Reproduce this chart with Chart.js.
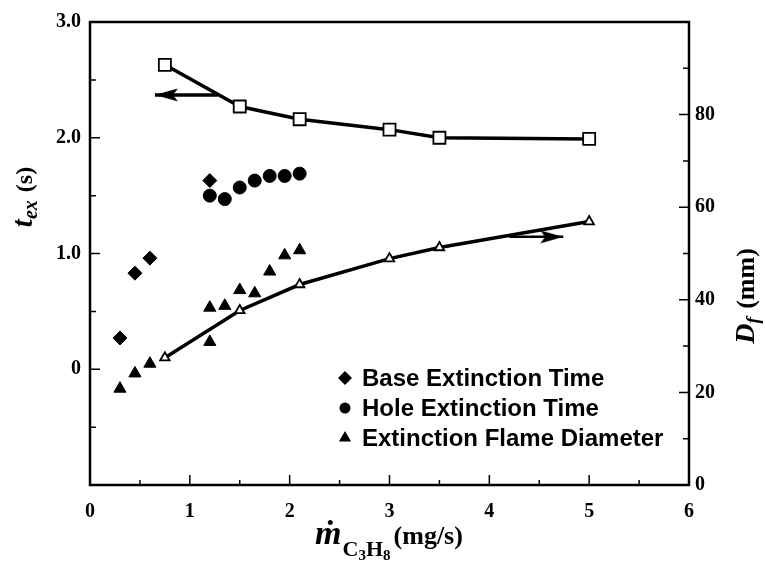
<!DOCTYPE html>
<html lang="en">
<head>
<meta charset="UTF-8">
<title>Extinction time and flame diameter</title>
<script src="https://cdn.jsdelivr.net/npm/chart.js@4.4.1/dist/chart.umd.min.js"></script>
<style>
  body { margin: 0; background: #fff; }
</style>
</head>
<body>
<canvas id="chart" width="765" height="561"></canvas>
<script>
// propane mass flow (mg/s) for the two fitted curves
const massFlow = [0.75, 1.5, 2.1, 3.0, 3.5, 5.0];
const extinctionTime = [2.63, 2.27, 2.16, 2.07, 2.0, 1.99];     // s, left axis
const flameDiameter = [27.5, 37.7, 43.3, 48.9, 51.3, 56.9];     // mm, right axis

// scattered measurements
const baseFlow = [0.3, 0.45, 0.6, 1.2];
const baseTime = [0.27, 0.83, 0.96, 1.63];
const holeFlow = [1.2, 1.35, 1.5, 1.65, 1.8, 1.95, 2.1];
const holeTime = [1.50, 1.47, 1.57, 1.63, 1.67, 1.67, 1.69];
const diamFlow = [0.3, 0.45, 0.6, 1.2, 1.2, 1.35, 1.5, 1.65, 1.8, 1.95, 2.1];
const diamValue = [20.8, 24.1, 26.2, 30.9, 38.3, 38.7, 42.1, 41.4, 46.1, 49.6, 50.7];

// arrows telling which axis each curve belongs to
const leftArrowX = [1.28, 0.65];
const leftArrowY = 2.37;
const rightArrowX = [4.2, 4.74];
const rightArrowY = 53.6;

const legendLabels = ['Base Extinction Time', 'Hole Extinction Time', 'Extinction Flame Diameter'];

const SERIF = '"Liberation Serif", "DejaVu Serif", serif';
const SANS = '"Liberation Sans", Arial, sans-serif';

function pts(xs, ys) {
  return xs.map((x, i) => ({ x: x, y: Array.isArray(ys) ? ys[i] : ys }));
}

// arrowhead sprite, tip at the centre of the canvas
function arrowHead(dir) {
  const c = document.createElement('canvas');
  c.width = 48; c.height = 14;
  const g = c.getContext('2d');
  g.fillStyle = '#000';
  g.beginPath();
  if (dir < 0) {
    g.moveTo(24, 7); g.lineTo(47, 0.5); g.lineTo(42, 7); g.lineTo(47, 13.5);
  } else {
    g.moveTo(24, 7); g.lineTo(1, 0.5); g.lineTo(6, 7); g.lineTo(1, 13.5);
  }
  g.closePath();
  g.fill();
  return c;
}

const tickMarks = {
  id: 'tickMarks',
  afterDatasetsDraw(chart) {
    const { ctx, chartArea: a, scales } = chart;
    ctx.save();
    ctx.strokeStyle = '#000';
    ctx.lineWidth = 1.5;
    ctx.beginPath();
    scales.y.ticks.forEach(t => {
      const y = scales.y.getPixelForValue(t.value);
      const len = t.label !== '' ? 10 : 6;
      ctx.moveTo(a.left, y); ctx.lineTo(a.left + len, y);
    });
    scales.y2.ticks.forEach(t => {
      const y = scales.y2.getPixelForValue(t.value);
      const len = t.label !== '' ? 10 : 6;
      ctx.moveTo(a.right, y); ctx.lineTo(a.right - len, y);
    });
    scales.x.ticks.forEach(t => {
      const x = scales.x.getPixelForValue(t.value);
      const len = t.label !== '' ? 10 : 5;
      ctx.moveTo(x, a.bottom); ctx.lineTo(x, a.bottom - len);
    });
    ctx.stroke();
    ctx.lineWidth = 2.5;
    ctx.strokeRect(a.left, a.top, a.right - a.left, a.bottom - a.top);
    ctx.restore();
  }
};

function drawRich(ctx, parts, cx, cy, angle) {
  ctx.save();
  ctx.translate(cx, cy);
  ctx.rotate(angle);
  ctx.fillStyle = '#000';
  ctx.textBaseline = 'alphabetic';
  let total = 0;
  parts.forEach(p => { ctx.font = p.font; p.w = ctx.measureText(p.text).width + (p.gap || 0); total += p.w; });
  let x = -total / 2;
  parts.forEach(p => { ctx.font = p.font; ctx.fillText(p.text, x, p.dy); x += p.w; });
  ctx.restore();
}

const axisTitles = {
  id: 'axisTitles',
  afterDraw(chart) {
    const ctx = chart.ctx;
    drawRich(ctx, [
      { text: 't', font: 'italic bold 29px ' + SERIF, dy: 8 },
      { text: 'ex', font: 'italic bold 20px ' + SERIF, dy: 13, gap: 2 },
      { text: ' (s)', font: 'bold 24px ' + SERIF, dy: 8 }
    ], 24, 197, -Math.PI / 2);
    drawRich(ctx, [
      { text: 'D', font: 'italic bold 28px ' + SERIF, dy: 8 },
      { text: 'f', font: 'italic bold 19px ' + SERIF, dy: 13, gap: 2 },
      { text: ' (mm)', font: 'bold 26px ' + SERIF, dy: 8 }
    ], 746, 296, -Math.PI / 2);
    drawRich(ctx, [
      { text: 'ṁ', font: 'italic bold 34px ' + SERIF, dy: 0, gap: 1 },
      { text: 'C', font: 'bold 22px ' + SERIF, dy: 12 },
      { text: '3', font: 'bold 15px ' + SERIF, dy: 16 },
      { text: 'H', font: 'bold 22px ' + SERIF, dy: 12 },
      { text: '8', font: 'bold 15px ' + SERIF, dy: 16, gap: 3 },
      { text: '(mg/s)', font: 'bold 26px ' + SERIF, dy: 0 }
    ], 389, 544, 0);
  }
};

const insideLegend = {
  id: 'insideLegend',
  afterDraw(chart) {
    const ctx = chart.ctx;
    const rows = [
      { style: 'rectRot', radius: 7, label: legendLabels[0], y: 378 },
      { style: 'circle', radius: 5.5, label: legendLabels[1], y: 408 },
      { style: 'triangle', radius: 7, label: legendLabels[2], y: 438 }
    ];
    ctx.save();
    ctx.fillStyle = '#000';
    ctx.strokeStyle = '#000';
    ctx.font = 'bold 24px ' + SANS;
    ctx.textBaseline = 'middle';
    rows.forEach(r => {
      Chart.helpers.drawPoint(ctx, { pointStyle: r.style, radius: r.radius, rotation: 0, borderWidth: 0 }, 345, r.y);
      ctx.fillText(r.label, 362, r.y + 1);
    });
    ctx.restore();
  }
};

new Chart(document.getElementById('chart'), {
  type: 'scatter',
  data: {
    datasets: [
      {
        label: 'arrow left',
        data: pts(leftArrowX, leftArrowY),
        yAxisID: 'y',
        showLine: true,
        borderColor: '#000',
        borderWidth: 3.5,
        pointStyle: arrowHead(-1),
        pointRadius: [0, 3]
      },
      {
        label: 'arrow right',
        data: pts(rightArrowX, rightArrowY),
        yAxisID: 'y2',
        showLine: true,
        borderColor: '#000',
        borderWidth: 2.5,
        pointStyle: arrowHead(1),
        pointRadius: [0, 3]
      },
      {
        label: 'Extinction time',
        data: pts(massFlow, extinctionTime),
        yAxisID: 'y',
        showLine: true,
        borderColor: '#000',
        borderWidth: 3.5,
        pointStyle: 'rect',
        pointRadius: 8.5,
        pointBackgroundColor: '#fff',
        pointBorderColor: '#000',
        pointBorderWidth: 1.8
      },
      {
        label: 'Flame diameter',
        data: pts(massFlow, flameDiameter),
        yAxisID: 'y2',
        showLine: true,
        borderColor: '#000',
        borderWidth: 3.5,
        pointStyle: 'triangle',
        pointRadius: 5.5,
        pointBackgroundColor: '#fff',
        pointBorderColor: '#000',
        pointBorderWidth: 1.8
      },
      {
        label: legendLabels[0],
        data: pts(baseFlow, baseTime),
        yAxisID: 'y',
        pointStyle: 'rectRot',
        pointRadius: 7,
        pointBackgroundColor: '#000',
        pointBorderColor: '#000'
      },
      {
        label: legendLabels[1],
        data: pts(holeFlow, holeTime),
        yAxisID: 'y',
        pointStyle: 'circle',
        pointRadius: 6.5,
        pointBackgroundColor: '#000',
        pointBorderColor: '#000'
      },
      {
        label: legendLabels[2],
        data: pts(diamFlow, diamValue),
        yAxisID: 'y2',
        pointStyle: 'triangle',
        pointRadius: 7,
        pointBackgroundColor: '#000',
        pointBorderColor: '#000'
      }
    ]
  },
  options: {
    responsive: false,
    animation: false,
    layout: { padding: { top: 22, left: 0, right: 0, bottom: 0 } },
    plugins: {
      legend: { display: false },
      tooltip: { enabled: false }
    },
    scales: {
      x: {
        type: 'linear',
        min: 0,
        max: 6,
        grid: { display: false, drawTicks: false },
        border: { display: false },
        ticks: {
          stepSize: 0.5,
          padding: 15,
          color: '#000',
          font: { family: SERIF, size: 20, weight: 'bold' },
          maxRotation: 0,
          autoSkip: false,
          callback: v => Number.isInteger(v) ? String(v) : ''
        },
        afterFit: s => { s.height = 76; }
      },
      y: {
        position: 'left',
        min: -1,
        max: 3,
        grid: { display: false, drawTicks: false },
        border: { display: false },
        ticks: {
          stepSize: 0.5,
          padding: 9,
          color: '#000',
          font: { family: SERIF, size: 20, weight: 'bold' },
          autoSkip: false,
          callback: v => (!Number.isInteger(v) || v < 0) ? '' : (v === 0 ? '0' : v.toFixed(1))
        },
        afterFit: s => { s.width = 90; }
      },
      y2: {
        position: 'right',
        min: 0,
        max: 100,
        grid: { display: false, drawTicks: false },
        border: { display: false },
        ticks: {
          stepSize: 10,
          padding: 6,
          color: '#000',
          font: { family: SERIF, size: 20, weight: 'bold' },
          autoSkip: false,
          callback: v => (v % 20 === 0 && v < 100) ? String(v) : ''
        },
        afterFit: s => { s.width = 76; }
      }
    }
  },
  plugins: [tickMarks, axisTitles, insideLegend]
});
</script>
</body>
</html>
